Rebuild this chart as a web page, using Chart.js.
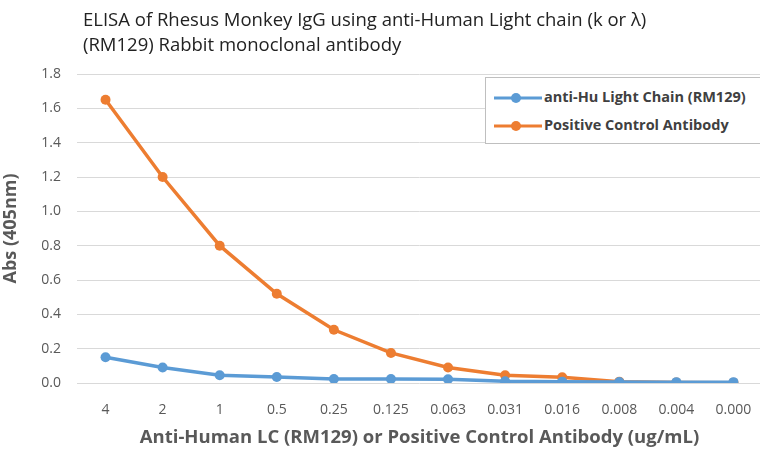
<!DOCTYPE html>
<html>
<head>
<meta charset="utf-8">
<script src="https://cdn.jsdelivr.net/npm/chart.js@4"></script>
<style>
  body { margin: 0; background: #fff; overflow: hidden; }
  #wrap { position: relative; width: 760px; height: 449px; overflow: hidden; }
  #title { position: absolute; left: 83px; top: 6px; font: 18.5px "Open Sans", sans-serif; color: #222; line-height: 25px; white-space: nowrap; }
  #legend { position: absolute; left: 485px; top: 77px; width: 280px; height: 67px; border: 1px solid #bfbfbf; background: #fff;
            font: bold 14.5px "Open Sans", sans-serif; color: #404040; box-sizing: border-box; }
  .item { position: absolute; left: 8px; height: 20px; line-height: 20px; white-space: nowrap; }
  .item svg { vertical-align: middle; margin-right: 2px; }
</style>
</head>
<body>
<div id="wrap">
  <canvas id="c" width="767" height="449"></canvas>
  <div id="title">ELISA of Rhesus Monkey IgG using anti-Human Light chain (k or λ)<br>(RM129) Rabbit monoclonal antibody</div>
  <div id="legend"></div>
</div>
<script>
// 데이터
const concentrations = ["4", "2", "1", "0.5", "0.25", "0.125", "0.063", "0.031", "0.016", "0.008", "0.004", "0.000"];
const lightChain = [0.15, 0.09, 0.045, 0.035, 0.023, 0.023, 0.022, 0.01, 0.008, 0.006, 0.005, 0.005];
const positiveControl = [1.65, 1.20, 0.80, 0.52, 0.31, 0.175, 0.09, 0.045, 0.033, 0.008, 0.003, 0.002];
const seriesNames = ["anti-Hu Light Chain (RM129)", "Positive Control Antibody"];
const yTicks = [0, 0.2, 0.4, 0.6, 0.8, 1.0, 1.2, 1.4, 1.6, 1.8];

const colors = ["#5B9BD5", "#ED7D31"];
const tickColor = "#595959";

// HTML 범례
const legend = document.getElementById("legend");
seriesNames.forEach((name, i) => {
  const div = document.createElement("div");
  div.className = "item";
  div.style.top = (i === 0 ? 9 : 37) + "px";
  div.innerHTML = `<svg width="48" height="12"><line x1="0" y1="6" x2="48" y2="6" stroke="${colors[i]}" stroke-width="3"/><circle cx="22" cy="6" r="5" fill="${colors[i]}"/></svg>${name}`;
  legend.appendChild(div);
});

const ds = (label, data, color) => ({
  label, data,
  borderColor: color, backgroundColor: color,
  borderWidth: 3.5, pointRadius: 5, pointHoverRadius: 5,
  pointBorderWidth: 0, tension: 0
});

new Chart(document.getElementById("c"), {
  type: "line",
  data: {
    labels: concentrations,
    datasets: [ds(seriesNames[0], lightChain, colors[0]), ds(seriesNames[1], positiveControl, colors[1])]
  },
  options: {
    responsive: false,
    animation: false,
    layout: { padding: { top: 74, right: 0, left: 0, bottom: 0 } },
    plugins: { legend: { display: false }, tooltip: { enabled: false } },
    scales: {
      x: {
        offset: true,
        grid: { display: false },
        border: { display: false },
        ticks: { color: tickColor, font: { family: "Open Sans", size: 14 }, padding: 11, maxRotation: 0, autoSkip: false },
        title: { display: true, text: "Anti-Human LC (RM129) or Positive Control Antibody (ug/mL)",
                 color: tickColor, font: { family: "Open Sans", size: 18.5, weight: "bold" }, padding: { top: 2, bottom: 0 } },
        afterFit: s => { s.height = 66; }
      },
      y: {
        min: 0, max: 1.8,
        afterBuildTicks: s => { s.ticks = yTicks.map(v => ({ value: v })); },
        grid: { color: "#d9d9d9", lineWidth: 1, drawTicks: false },
        border: { display: false },
        ticks: { color: tickColor, font: { family: "Open Sans", size: 14 }, padding: 16,
                 callback: v => Number(v).toFixed(1) },
        title: { display: true, text: "Abs (405nm)", color: tickColor,
                 font: { family: "Open Sans", size: 18, weight: "bold" }, padding: { top: 0, bottom: 2 } },
        afterFit: s => { s.width = 77; }
      }
    }
  }
});
</script>
</body>
</html>
